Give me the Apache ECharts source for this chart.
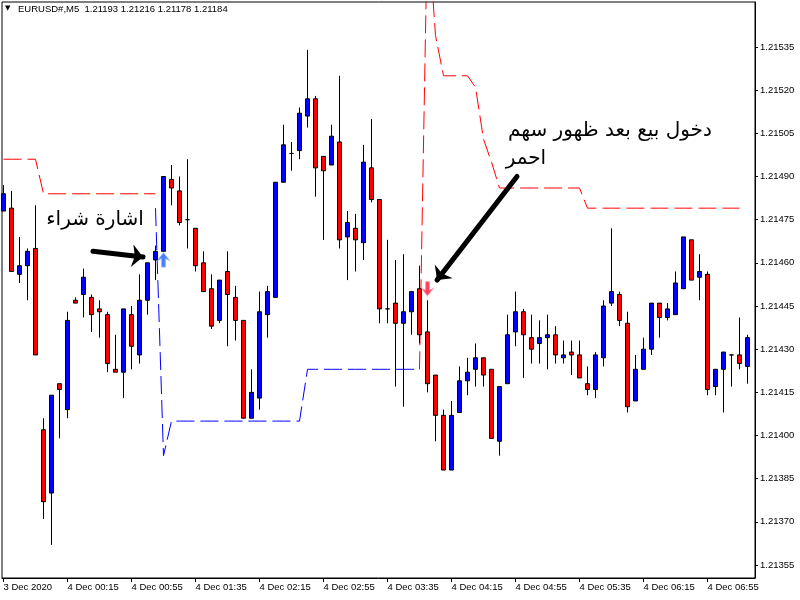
<!DOCTYPE html>
<html><head><meta charset="utf-8">
<script src="https://cdn.jsdelivr.net/npm/echarts@6/dist/echarts.min.js"></script>
<style>html,body{margin:0;padding:0;background:#fff}#c{width:800px;height:600px}</style>
</head><body><div id="c"></div>
<script>
// ---- data (EURUSD M5) ----
const timeLabels = ['3 Dec 2020','4 Dec 00:15','4 Dec 00:55','4 Dec 01:35','4 Dec 02:15','4 Dec 02:55',
  '4 Dec 03:35','4 Dec 04:15','4 Dec 04:55','4 Dec 05:35','4 Dec 06:15','4 Dec 06:55'];
const labelBars = [0,8,16,24,32,40,48,56,64,72,80,88];
const priceTicks = [1.21355,1.21370,1.21385,1.21400,1.21415,1.21430,1.21445,1.21460,1.21475,1.21490,1.21505,1.21520,1.21535];

const openP = [1.21478,1.21479,1.21456,1.21459,1.21465,1.21402,1.21380,1.21418,1.21409,1.21447,
1.21449,1.21448,1.21444,1.21442,1.21423,1.21422,1.21442,1.21428,1.21447,1.21461,
1.21464,1.21489,1.21485,1.21475,1.21472,1.21460,1.21451,1.21440,1.21457,1.21448,
1.21440,1.21406,1.21413,1.21442,1.21448,1.21488,1.21498,1.21499,1.21511,1.21517,
1.21497,1.21494,1.21502,1.21469,1.21472,1.21467,1.21493,1.21482,1.21444,1.21446,
1.21439,1.21443,1.21451,1.21436,1.21421,1.21407,1.21388,1.21408,1.21419,1.21423,
1.21427,1.21423,1.21398,1.21418,1.21436,1.21443,1.21434,1.21432,1.21434,1.21435,
1.21427,1.21429,1.21428,1.21418,1.21416,1.21427,1.21446,1.21449,1.21439,1.21412,
1.21423,1.21430,1.21446,1.21441,1.21442,1.21451,1.21468,1.21455,1.21456,1.21417,
1.21423,1.21428,1.21428,1.21424];
const highP = [1.21487,1.21485,1.21469,1.21465,1.21480,1.21406,1.21414,1.21418,1.21443,1.21448,
1.21458,1.21449,1.21447,1.21443,1.21435,1.21444,1.21445,1.21456,1.21460,1.21466,
1.21490,1.21494,1.21490,1.21496,1.21472,1.21464,1.21456,1.21454,1.21464,1.21452,
1.21440,1.21423,1.21450,1.21452,1.21488,1.21508,1.21502,1.21514,1.21534,1.21518,
1.21497,1.21508,1.21525,1.21478,1.21477,1.21501,1.21510,1.21482,1.21468,1.21461,
1.21463,1.21450,1.21459,1.21447,1.21421,1.21409,1.21412,1.21424,1.21427,1.21432,
1.21427,1.21423,1.21417,1.21442,1.21450,1.21444,1.21442,1.21440,1.21442,1.21438,
1.21433,1.21433,1.21433,1.21424,1.21429,1.21447,1.21472,1.21450,1.21443,1.21428,
1.21434,1.21446,1.21446,1.21446,1.21457,1.21469,1.21468,1.21463,1.21457,1.21423,
1.21429,1.21428,1.21441,1.21435];
const lowP = [1.21478,1.21457,1.21453,1.21447,1.21428,1.21371,1.21362,1.21399,1.21406,1.21446,
1.21441,1.21436,1.21434,1.21422,1.21422,1.21413,1.21423,1.21425,1.21442,1.21454,
1.21464,1.21480,1.21473,1.21465,1.21457,1.21450,1.21437,1.21439,1.21431,1.21433,
1.21406,1.21406,1.21409,1.21434,1.21448,1.21488,1.21492,1.21496,1.21507,1.21483,
1.21468,1.21494,1.21465,1.21454,1.21457,1.21461,1.21481,1.21439,1.21439,1.21417,
1.21410,1.21435,1.21432,1.21415,1.21398,1.21388,1.21388,1.21408,1.21414,1.21417,
1.21417,1.21399,1.21393,1.21418,1.21431,1.21420,1.21425,1.21425,1.21423,1.21425,
1.21425,1.21421,1.21420,1.21414,1.21413,1.21424,1.21445,1.21438,1.21408,1.21412,
1.21423,1.21428,1.21434,1.21440,1.21442,1.21451,1.21454,1.21447,1.21414,1.21414,
1.21408,1.21417,1.21423,1.21418];
const closeP = [1.21484,1.21457,1.21459,1.21464,1.21428,1.21377,1.21414,1.21416,1.21440,1.21446,
1.21455,1.21442,1.21443,1.21425,1.21422,1.21444,1.21431,1.21447,1.21460,1.21464,
1.21490,1.21486,1.21474,1.21475,1.21459,1.21450,1.21438,1.21454,1.21449,1.21440,
1.21406,1.21415,1.21443,1.21450,1.21488,1.21501,1.21498,1.21512,1.21517,1.21493,
1.21492,1.21504,1.21468,1.21474,1.21468,1.21495,1.21482,1.21444,1.21444,1.21439,
1.21443,1.21450,1.21435,1.21418,1.21407,1.21388,1.21407,1.21419,1.21422,1.21427,
1.21421,1.21399,1.21417,1.21435,1.21443,1.21435,1.21430,1.21434,1.21435,1.21428,
1.21428,1.21428,1.21420,1.21416,1.21428,1.21445,1.21450,1.21440,1.21410,1.21423,
1.21430,1.21446,1.21441,1.21444,1.21453,1.21469,1.21454,1.21457,1.21416,1.21423,
1.21429,1.21428,1.21425,1.21434];

// trailing-stop indicator segments (first bar index + per-bar values)
const redStopAStart = 0;
const redStopA = [1.21496,1.21496,1.21496,1.21496,1.21496,
  1.21484,1.21484,1.21484,1.21484,1.21484,1.21484,1.21484,1.21484,1.21484,1.21484,1.21484,1.21484,1.21484,1.21484,1.21484];
const blueStopStart = 19;
const blueStop = [1.21479,1.21393,
  1.21405,1.21405,1.21405,1.21405,1.21405,1.21405,1.21405,1.21405,1.21405,1.21405,1.21405,1.21405,1.21405,1.21405,1.21405,1.21405,1.21405,
  1.21423,1.21423,1.21423,1.21423,1.21423,1.21423,1.21423,1.21423,1.21423,1.21423,1.21423,1.21423,1.21423,1.21423,1.21423];
const redStopBStart = 52;
const redStopB = [1.21423,1.21579,1.21539,1.21525,1.21525,1.21525,1.21525,1.21521,1.21503,1.21495,
  1.21486,1.21486,1.21486,1.21486,1.21486,1.21486,1.21486,1.21486,1.21486,1.21486,1.21486,
  1.21479,1.21479,1.21479,1.21479,1.21479,1.21479,1.21479,1.21479,1.21479,1.21479,
  1.21479,1.21479,1.21479,1.21479,1.21479,1.21479,1.21479,1.21479,1.21479,1.21479];

const buyArrows = [[20, 1.21461]];
const sellArrows = [[53, 1.21451]];

const headerText = 'EURUSD#,M5  1.21193 1.21216 1.21178 1.21184';
const notes = [
  {text: 'اشارة شراء', x: 11.44, y: 1.21475},
  {text: 'دخول بيع بعد ظهور سهم', x: 75.8, y: 1.21506},
  {text: 'احمر', x: 65.3, y: 1.21496}
];
const noteArrows = [
  [[11.19, 1.21464], [17.44, 1.21462]],
  [[64.19, 1.21490], [54.19, 1.21454]]
];

// ---- chart ----
const candles = openP.map((o, i) => [i, o, closeP[i], lowP[i], highP[i]]);
const seg = (start, arr) => arr.map((v, k) => [start + k, v]);
const AXF = 'Liberation Sans, Arial, sans-serif';

const chart = echarts.init(document.getElementById('c'), null, {renderer: 'canvas'});
const dashed = [18, 6];
chart.setOption({
  animation: false,
  backgroundColor: '#ffffff',
  grid: {left: 2, right: 45, top: 2, bottom: 22, show: true, borderColor: '#000', borderWidth: 1, backgroundColor: '#fff'},
  xAxis: {
    type: 'value', min: -0.1875, max: 93.9375,
    axisLine: {show: true, onZero: false, lineStyle: {color: '#000'}},
    splitLine: {show: false},
    axisTick: {show: true, inside: false, customValues: labelBars, length: 4, lineStyle: {color: '#000'}},
    axisLabel: {customValues: labelBars, align: 'left', margin: 4, color: '#000', fontSize: 9.5, fontFamily: AXF,
      formatter: v => timeLabels[labelBars.indexOf(Math.round(v))] || ''}
  },
  yAxis: {
    type: 'value', position: 'right', min: 1.2135048, max: 1.2155064, scale: true,
    axisLine: {show: true, onZero: false, lineStyle: {color: '#000'}},
    splitLine: {show: false},
    axisTick: {show: true, inside: false, customValues: priceTicks, length: 3, lineStyle: {color: '#000'}},
    axisLabel: {customValues: priceTicks, margin: 5, color: '#000', fontSize: 9.5, fontFamily: AXF,
      formatter: v => v.toFixed(5)}
  },
  series: [
    {type: 'line', data: seg(redStopAStart, redStopA), showSymbol: false, z: 1,
     lineStyle: {color: '#ff0000', width: 1, type: dashed}},
    {type: 'line', data: seg(blueStopStart, blueStop), showSymbol: false, z: 1,
     lineStyle: {color: '#0000ff', width: 1, type: dashed}},
    {type: 'line', data: seg(redStopBStart, redStopB), showSymbol: false, z: 1,
     lineStyle: {color: '#ff0000', width: 1, type: dashed}},
    {type: 'candlestick', data: candles, encode: {x: 0, y: [1, 2, 3, 4]}, barWidth: 5, z: 3,
     itemStyle: {color: '#0000ff', color0: '#ff0000', borderColor: '#000', borderColor0: '#000', borderColorDoji: '#000', borderWidth: 1},
     markLine: {silent: true, symbol: ['none', 'arrow'], symbolSize: [17, 11], label: {show: false},
       lineStyle: {color: '#000', width: 5, type: 'solid', cap: 'round'},
       emphasis: {disabled: true},
       data: noteArrows.map(a => [{coord: a[0]}, {coord: a[1]}])}},
    {type: 'scatter', data: buyArrows, z: 5, symbolSize: [11, 14],
     symbol: 'path://M6,0 L12,7 L8,5.5 L8,14 L4,14 L4,5.5 L0,7 Z',
     itemStyle: {color: '#1a5cff', borderColor: '#7fa8ff', borderWidth: 1}},
    {type: 'scatter', data: sellArrows, z: 5, symbolSize: [11, 14], symbolRotate: 180,
     symbol: 'path://M6,0 L12,7 L8,5.5 L8,14 L4,14 L4,5.5 L0,7 Z',
     itemStyle: {color: '#ff1030', borderColor: '#ff8fa0', borderWidth: 1}}
  ]
});

const toPx = p => chart.convertToPixel({xAxisIndex: 0, yAxisIndex: 0}, p);
const graphics = notes.map(n => {
  const p = toPx([n.x, n.y]);
  return {type: 'text', x: p[0], y: p[1], z: 10,
    style: {text: n.text, fill: '#000', font: '20px "DejaVu Sans", sans-serif', textAlign: 'center', textVerticalAlign: 'middle'}};
});
graphics.push({type: 'text', left: 5, top: 5, z: 10,
  style: {text: '▼', fill: '#000', font: '7px "DejaVu Sans", sans-serif'}});
graphics.push({type: 'text', left: 18, top: 4, z: 10,
  style: {text: headerText, fill: '#000', font: '9.5px "Liberation Sans", Arial, sans-serif'}});
chart.setOption({graphic: graphics});
</script></body></html>
